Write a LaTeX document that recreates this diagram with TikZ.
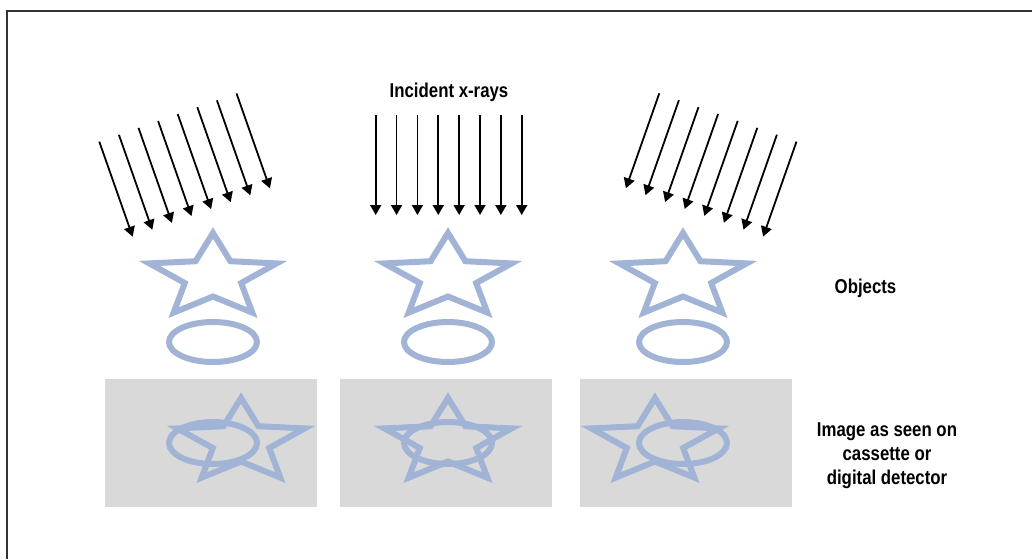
\documentclass[tikz,border=0pt]{standalone}
\usepackage{fontspec}
\newfontfamily\lblfont{Liberation Sans}[FakeStretch=0.84]
\usepackage{tikz}
\usetikzlibrary{arrows.meta}

\definecolor{objblue}{RGB}{161,180,214}
\definecolor{detgray}{RGB}{217,217,217}
\definecolor{framegray}{RGB}{51,51,51}

\begin{document}
\begin{tikzpicture}[x=1pt, y=-1pt,
  ray/.style={line width=1.8pt, -{Triangle[length=10pt, width=11pt]}},
  objline/.style={objblue, line width=6pt},
  detector/.style={fill=detgray, draw=none},
  lbl/.style={font=\lblfont\bfseries\fontsize{20}{24}\selectfont, align=center}]
\useasboundingbox (0,0) rectangle (1032,559);
% frame (only top and left edge show)
\draw[framegray, line width=1.3pt] (7,559) -- (7,11) -- (1032,11);

% incoming rays, three directions
\foreach \i in {0,...,7}
  \draw[ray] ({99.3+19.6*\i},{141.7-6.9*\i}) -- ++(33.4,95);
\foreach \i in {0,...,7}
  \draw[ray] ({375.7+20.86*\i},115) -- ++(0,100);
\foreach \i in {0,...,7}
  \draw[ray] ({659.3+19.6*\i},{93.3+6.9*\i}) -- ++(-33.4,95);

% objects: star above ellipse
\foreach \cx in {213,448,683} {
  \draw[objline, shift={(\cx,277)}, xscale=1.52, yscale=-1]
    (90:44) -- (126:19.5) -- (162:44) -- (198:19.5) -- (234:44) -- (270:19.5)
    -- (306:44) -- (342:19.5) -- (18:44) -- (54:19.5) -- cycle;
  \draw[objline] (\cx,342) ellipse [x radius=44, y radius=20];
}

% detectors with the projected images
\foreach \px/\sx/\ex in {105/241/213, 340/448/448, 580/655/683} {
  \fill[detector] (\px,379) rectangle ++(212,128);
  \draw[objline, shift={(\sx,442)}, xscale=1.52, yscale=-1]
    (90:44) -- (126:19.5) -- (162:44) -- (198:19.5) -- (234:44) -- (270:19.5)
    -- (306:44) -- (342:19.5) -- (18:44) -- (54:19.5) -- cycle;
  \draw[objline] (\ex,443) ellipse [x radius=44, y radius=21];
}

\node[lbl, anchor=base] (incident) at (449,97.5) {Incident x-rays};
\node[lbl, anchor=base] (objects) at (865.5,293.5) {Objects};
\node[lbl] (image) at (887,455.5) {Image as seen on\\cassette or\\digital detector};
\end{tikzpicture}
\end{document}
